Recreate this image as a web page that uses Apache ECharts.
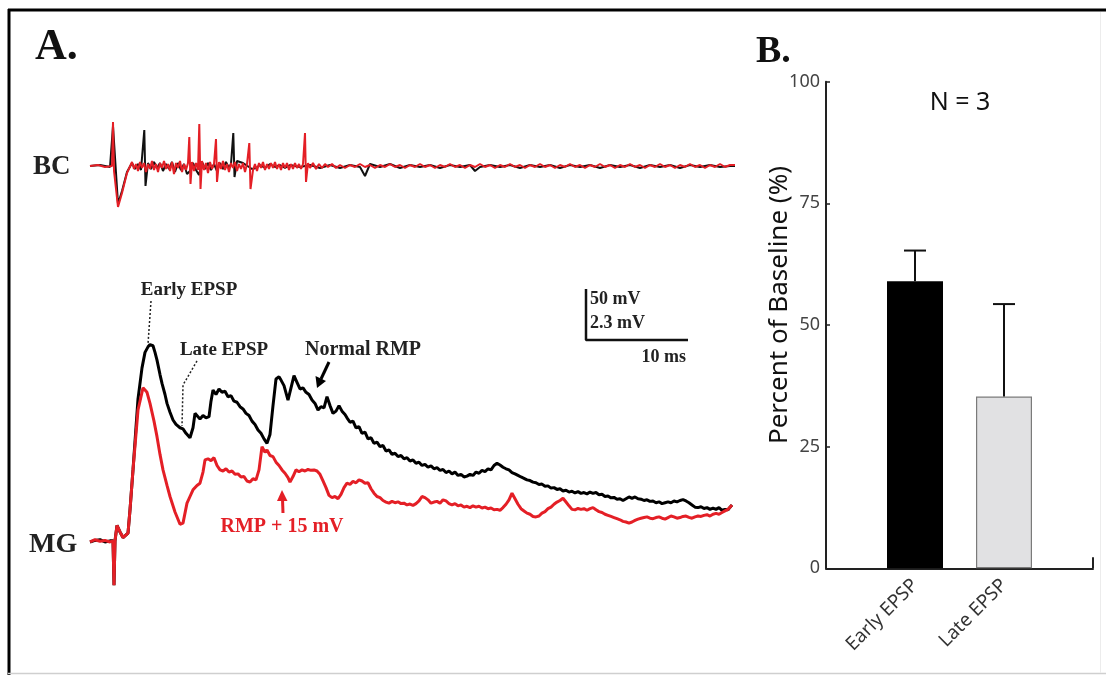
<!DOCTYPE html>
<html><head><meta charset="utf-8">
<script src="https://cdn.jsdelivr.net/npm/echarts@6/dist/echarts.min.js"></script>
<style>html,body{margin:0;padding:0;background:#fff}#c{width:1106px;height:675px}</style>
</head><body><div id="c"></div>
<script>
// ---- Panel A: BC (stimulus) traces, time in ms, voltage in mV ----
const bcBlack = [[0,0],[1,1],[2,-1],[2.3,40],[2.8,-38],[3.2,-25],[3.7,-6],[4.2,3],[4.5,-3],[4.8,2],[5.1,-4],[5.43,36],[5.55,-20],[5.8,3],[6.1,-3],[6.4,4],[6.7,-2],[7.0,3],[7.3,-5],[7.6,2],[7.9,-3],[8.2,4],[8.5,-6],[8.8,3],[9.1,-4],[9.4,2],[9.7,-8],[10.0,-5],[10.3,3],[10.6,-4],[10.9,-9],[11.2,4],[11.5,-3],[11.8,3],[12.1,-4],[12.4,2],[12.7,-5],[13.0,3],[13.3,-3],[13.6,4],[13.9,-2],[14.1,2],[14.33,33],[14.45,-11],[14.7,5],[15.0,4],[15.3,3],[15.6,1],[15.9,-1],[16.2,-3],[16.6,-2],[17,1],[17.5,-2],[18,2],[18.5,-1],[19,1],[19.5,-2],[20,1],[21,-1],[22,1],[23,-2],[24,1],[25,-2],[26,1],[27,-1],[27.5,-10],[28,2],[29,-1],[30,2],[31,-2],[32,1],[33,-1],[34,1],[35,-2],[36,1],[37,-1],[38,1],[38.5,-5],[39,-1],[40,1],[41,-1],[42,1],[43,-2],[44,1],[45,-1],[46,1],[47,-2],[48,1],[49,-1],[50,1],[51,-2],[52,1],[53,-1],[54,1],[55,-2],[56,1],[57,-1],[58,1],[59,-2],[60,1],[61,-1],[62,1],[63,-1],[64,0],[64.5,0]];
const bcRed = [[0,0],[0.8,1],[1.5,-1],[2.2,0],[2.3,44],[2.4,-5],[2.8,-41],[3.2,-27],[3.7,-7],[4.2,4],[4.4,-3],[4.6,2],[4.8,-5],[5.0,4],[5.2,-2],[5.4,3],[5.6,-6],[5.8,2],[6.0,-3],[6.2,5],[6.4,-4],[6.6,2],[6.8,-6],[7.0,3],[7.2,-2],[7.4,5],[7.6,-3],[7.8,2],[8.0,-5],[8.2,4],[8.4,-8],[8.6,3],[8.8,-2],[9.0,5],[9.2,-6],[9.4,2],[9.6,-4],[9.8,3],[9.93,29],[10.05,-18],[10.2,4],[10.4,-5],[10.6,3],[10.8,-4],[10.93,42],[11.05,-23],[11.2,5],[11.4,-4],[11.6,3],[11.8,-7],[12.0,4],[12.2,-3],[12.4,2],[12.6,27],[12.7,-16],[12.9,4],[13.1,-3],[13.3,5],[13.5,-4],[13.7,2],[13.9,-6],[14.1,3],[14.3,-2],[14.5,4],[14.7,-5],[14.9,2],[15.1,-3],[15.3,3],[15.5,-6],[15.7,2],[15.93,23],[16.05,-23],[16.3,-4],[16.5,2],[16.7,-5],[16.9,3],[17.1,-2],[17.3,4],[17.5,-4],[17.7,2],[17.9,-3],[18.1,3],[18.3,-2],[18.5,4],[18.7,-3],[18.9,2],[19.1,-4],[19.3,3],[19.5,-2],[19.7,3],[19.9,-4],[20.1,2],[20.3,-3],[20.5,3],[20.7,-2],[20.9,2],[21.1,-3],[21.3,2],[21.5,33],[21.6,-16],[21.8,3],[22.0,-2],[22.3,3],[22.6,-3],[22.9,2],[23.2,-2],[23.5,2],[23.8,-1],[24.2,2],[24.6,-2],[25,1],[25.5,-2],[26,1],[26.5,-1],[27,2],[27.5,-1],[28,1],[28.5,-2],[29,1],[29.5,-1],[30,2],[30.5,-1],[31,1],[31.5,-2],[32,1],[32.5,-1],[33,2],[33.5,-1],[34,1],[34.5,-2],[35,1],[35.5,-1],[36,2],[36.5,-1],[37,1],[37.5,-2],[38,1],[38.5,-1],[39,2],[39.5,-1],[40,1],[40.5,-2],[41,1],[41.5,-1],[42,2],[42.5,-1],[43,1],[43.5,-2],[44,1],[44.5,-1],[45,2],[45.5,-1],[46,1],[46.5,-2],[47,1],[47.5,-1],[48,2],[48.5,-1],[49,1],[49.5,-2],[50,1],[50.5,-1],[51,2],[51.5,-1],[52,1],[52.5,-2],[53,1],[53.5,-1],[54,2],[54.5,-1],[55,1],[55.5,-2],[56,1],[56.5,-1],[57,2],[57.5,-1],[58,1],[58.5,-2],[59,1],[59.5,-1],[60,2],[60.5,-1],[61,1],[61.5,-2],[62,1],[62.5,-1],[63,2],[63.5,-1],[64,1],[64.5,1]];

// ---- Panel A: MG traces (normal RMP = black, RMP + 15 mV = red) ----
const mgBlack = [[0,0.05],[0.5,0.12],[1.0,0.15],[1.5,0.05],[2.0,0.1],[2.3,0.1],[2.4,-1.9],[2.5,0.1],[2.7,0.8],[3.0,0.5],[3.3,0.25],[3.8,0.45],[4.0,1.5],[4.3,3.3],[4.8,6.5],[5.2,7.9],[5.5,8.6],[5.8,8.85],[6.0,8.95],[6.3,8.9],[6.5,8.6],[6.7,8.25],[7.0,7.6],[7.2,7.2],[7.5,6.7],[7.7,6.3],[8.0,5.9],[8.3,5.55],[8.6,5.35],[8.8,5.4],[9.0,5.2],[9.3,5.15],[9.6,4.95],[9.8,5.0],[10.0,4.75],[10.3,5.2],[10.5,5.85],[10.8,5.7],[11.0,5.6],[11.3,5.75],[11.6,5.65],[11.9,5.7],[12.1,6.4],[12.3,6.9],[12.6,6.7],[12.9,6.95],[13.2,6.8],[13.5,6.85],[13.8,6.6],[14.1,6.65],[14.4,6.4],[14.7,6.35],[15.0,6.15],[15.3,6.05],[15.6,5.85],[15.9,5.75],[16.2,5.5],[16.5,5.35],[16.8,5.1],[17.1,4.95],[17.4,4.7],[17.7,4.5],[18.0,4.9],[18.3,6.2],[18.6,7.4],[18.9,7.5],[19.1,7.35],[19.4,7.1],[19.8,6.45],[20.1,7.0],[20.4,7.55],[20.7,7.25],[21.0,6.95],[21.3,7.0],[21.6,6.8],[21.9,6.7],[22.2,6.45],[22.5,6.3],[22.8,6.0],[23.1,6.15],[23.4,6.1],[23.7,6.6],[24.0,6.2],[24.3,5.85],[24.6,5.95],[24.9,6.2],[25.2,5.95],[25.5,5.8],[25.7,5.65],[26.0,5.45],[26.3,5.5],[26.6,5.2],[26.9,5.25],[27.2,4.95],[27.5,5.0],[27.8,4.7],[28.1,4.75],[28.4,4.5],[28.7,4.55],[29.0,4.35],[29.3,4.4],[29.6,4.15],[29.9,4.2],[30.2,4.0],[30.5,4.05],[30.8,3.9],[31.1,3.95],[31.4,3.8],[31.7,3.85],[32.0,3.7],[32.3,3.75],[32.6,3.6],[32.9,3.65],[33.2,3.5],[33.5,3.55],[33.8,3.42],[34.1,3.48],[34.4,3.35],[34.7,3.4],[35.0,3.28],[35.3,3.32],[35.6,3.18],[35.9,3.25],[36.2,3.12],[36.5,3.2],[36.8,3.05],[37.1,3.1],[37.4,2.98],[37.7,3.02],[38.0,3.1],[38.3,3.05],[38.6,3.2],[38.9,3.15],[39.2,3.28],[39.5,3.22],[39.8,3.35],[40.1,3.3],[40.4,3.5],[40.7,3.6],[41.0,3.52],[41.3,3.42],[41.6,3.35],[41.9,3.3],[42.2,3.18],[42.5,3.12],[42.8,3.05],[43.1,2.98],[43.4,2.92],[43.7,2.85],[44.0,2.82],[44.3,2.75],[44.6,2.72],[44.9,2.64],[45.2,2.66],[45.5,2.56],[45.8,2.58],[46.1,2.48],[46.4,2.5],[46.7,2.42],[47.0,2.45],[47.3,2.35],[47.6,2.38],[47.9,2.3],[48.2,2.34],[48.5,2.26],[48.8,2.32],[49.1,2.24],[49.4,2.28],[49.7,2.22],[50.0,2.3],[50.3,2.24],[50.6,2.28],[50.9,2.18],[51.2,2.2],[51.5,2.1],[51.8,2.12],[52.1,2.04],[52.4,2.06],[52.7,1.98],[53.0,2.0],[53.3,1.92],[53.6,2.0],[53.9,2.08],[54.2,2.02],[54.5,2.08],[54.8,2.0],[55.1,1.98],[55.4,1.92],[55.7,1.95],[56.0,1.88],[56.3,1.9],[56.6,1.82],[56.9,1.86],[57.2,1.78],[57.5,1.82],[57.8,1.86],[58.1,1.82],[58.4,1.9],[58.7,1.86],[59.0,1.92],[59.3,1.96],[59.6,1.9],[59.9,1.82],[60.2,1.72],[60.5,1.62],[60.8,1.6],[61.1,1.64],[61.4,1.56],[61.7,1.6],[62.0,1.52],[62.3,1.58],[62.6,1.52],[62.9,1.6],[63.2,1.48],[63.5,1.52],[63.8,1.5],[64.0,1.62],[64.2,1.72]];
const mgRed = [[0,0.05],[0.5,0.15],[1.0,0.08],[1.5,0.12],[2.0,0.05],[2.3,0.1],[2.4,-1.9],[2.5,0.1],[2.7,0.8],[3.0,0.5],[3.3,0.25],[3.8,0.45],[4.0,1.5],[4.3,3.3],[4.8,6.0],[5.3,7.0],[5.7,6.8],[6.0,6.3],[6.4,5.5],[6.7,4.8],[7.0,4.0],[7.3,3.3],[7.7,2.6],[8.0,2.1],[8.5,1.4],[9.0,0.85],[9.3,0.9],[9.7,1.8],[10.0,2.1],[10.3,2.4],[10.7,2.6],[11.0,2.7],[11.3,3.2],[11.5,3.75],[11.8,3.8],[12.1,3.72],[12.4,3.85],[12.7,3.5],[13.0,3.3],[13.3,3.25],[13.6,3.35],[13.9,3.2],[14.2,3.25],[14.5,3.1],[14.8,3.12],[15.1,2.98],[15.4,3.0],[15.7,2.8],[16.0,2.75],[16.3,2.9],[16.6,2.85],[16.9,3.3],[17.2,4.35],[17.5,4.1],[17.7,4.2],[18.0,3.95],[18.3,3.9],[18.6,3.65],[18.9,3.5],[19.2,3.3],[19.5,3.15],[19.8,2.95],[20.0,2.75],[20.3,3.0],[20.6,3.3],[20.9,3.22],[21.2,3.3],[21.5,3.25],[21.8,3.32],[22.1,3.28],[22.4,3.3],[22.7,3.25],[23.0,3.1],[23.3,2.8],[23.6,2.5],[23.9,2.15],[24.2,2.05],[24.5,2.1],[24.8,2.0],[25.1,2.2],[25.4,2.5],[25.7,2.7],[26.0,2.65],[26.3,2.78],[26.6,2.72],[26.9,2.85],[27.2,2.8],[27.5,2.7],[27.8,2.72],[28.1,2.45],[28.4,2.25],[28.7,2.1],[29.0,2.05],[29.3,1.92],[29.6,1.85],[29.9,1.8],[30.2,1.88],[30.5,1.82],[30.8,1.86],[31.1,1.78],[31.4,1.8],[31.7,1.72],[32.0,1.76],[32.3,1.7],[32.6,1.78],[32.9,1.9],[33.2,2.1],[33.5,2.05],[33.8,1.95],[34.1,1.8],[34.4,1.85],[34.7,1.88],[35.0,1.8],[35.3,1.95],[35.6,1.9],[35.9,1.78],[36.2,1.72],[36.5,1.78],[36.8,1.68],[37.1,1.72],[37.4,1.62],[37.7,1.66],[38.0,1.6],[38.3,1.68],[38.6,1.62],[38.9,1.66],[39.2,1.58],[39.5,1.62],[39.8,1.55],[40.1,1.58],[40.4,1.5],[40.7,1.52],[41.0,1.48],[41.3,1.6],[41.6,1.75],[41.9,1.95],[42.2,2.25],[42.5,2.0],[42.8,1.75],[43.1,1.55],[43.4,1.45],[43.7,1.35],[44.0,1.3],[44.3,1.2],[44.6,1.18],[44.9,1.22],[45.2,1.35],[45.5,1.42],[45.8,1.55],[46.1,1.62],[46.4,1.75],[46.7,1.85],[47.0,1.92],[47.3,2.02],[47.6,1.85],[47.9,1.68],[48.2,1.52],[48.5,1.5],[48.8,1.56],[49.1,1.52],[49.4,1.55],[49.7,1.48],[50.0,1.55],[50.3,1.6],[50.6,1.5],[50.9,1.42],[51.2,1.38],[51.5,1.3],[51.8,1.25],[52.1,1.2],[52.4,1.15],[52.7,1.1],[53.0,1.05],[53.3,0.98],[53.6,0.95],[53.9,0.9],[54.2,0.95],[54.5,1.02],[54.8,1.08],[55.1,1.12],[55.4,1.15],[55.7,1.18],[56.0,1.12],[56.3,1.1],[56.6,1.15],[56.9,1.18],[57.2,1.12],[57.5,1.08],[57.8,1.15],[58.1,1.22],[58.4,1.18],[58.7,1.12],[59.0,1.15],[59.3,1.2],[59.6,1.22],[59.9,1.16],[60.2,1.12],[60.5,1.18],[60.8,1.22],[61.1,1.2],[61.4,1.25],[61.7,1.28],[62.0,1.22],[62.3,1.3],[62.6,1.34],[62.9,1.3],[63.2,1.38],[63.5,1.45],[63.8,1.52],[64.0,1.62],[64.2,1.72]];

// scale bar: 10 ms horizontal, 2.3 mV (MG) / 50 mV (BC) vertical
const scaleBar = [[49.6, 11.46], [49.6, 9.16], [59.8, 9.16]];

// ---- Panel B: bar chart ----
const barCategories = ['', 'Early EPSP', 'Late EPSP', ''];
const barMeans = [null, 59.0, 35.3, null];
const barErrors = [null, 6.3, 19.0, null];
const barColors = ['#000', '#000000', '#e1e1e3', '#000'];
const yTickValues = [0, 25, 50, 75, 100];
const yAxisTitle = 'Percent of Baseline (%)';

const serif = '"Liberation Serif", "DejaVu Serif", serif';
const sans = '"Noto Sans", "Open Sans", sans-serif';

const chart = echarts.init(document.getElementById('c'), null, {renderer: 'canvas'});

const errData = [];
barMeans.forEach((m, i) => { if (m != null) errData.push([i, m, m + barErrors[i]]); });

function txt(text, x, y, size, color, align, extra) {
  return Object.assign({
    type: 'text', z: 100,
    style: {text: text, x: x, y: y, font: 'bold ' + size + 'px ' + serif, fill: color || '#111',
      textAlign: align || 'left', textVerticalAlign: 'middle', align: align || 'left', verticalAlign: 'middle'}
  }, extra || {});
}

const option = {
  animation: false,
  backgroundColor: '#fff',
  grid: [
    {left: 90, top: 106, width: 650, height: 120},
    {left: 90, top: 277, width: 650, height: 321.5},
    {left: 826, top: 81.7, width: 267, height: 486.6}
  ],
  xAxis: [
    {gridIndex: 0, type: 'value', min: 0, max: 65, show: false},
    {gridIndex: 1, type: 'value', min: 0, max: 65, show: false},
    {gridIndex: 2, type: 'category', data: barCategories, boundaryGap: false,
      axisLine: {lineStyle: {color: '#222', width: 2}},
      axisTick: {inside: true, length: 11, interval: function (i) { return i === barCategories.length - 1; }, lineStyle: {color: '#222', width: 2}},
      axisLabel: {rotate: 45, interval: 0, color: '#333', fontSize: 19, fontFamily: sans, margin: 14}
    }
  ],
  yAxis: [
    {gridIndex: 0, type: 'value', min: -60, max: 60, show: false},
    {gridIndex: 1, type: 'value', min: -2.5, max: 12, show: false},
    {gridIndex: 2, type: 'value', min: 0, max: 100, interval: 25,
      splitLine: {show: false},
      axisLine: {show: true, lineStyle: {color: '#222', width: 2}},
      axisTick: {show: true, inside: true, length: 4, lineStyle: {color: '#222', width: 1.5}},
      axisLabel: {color: '#444', fontSize: 18, fontFamily: sans, margin: 6,
        formatter: function (v) { return yTickValues.indexOf(v) >= 0 ? String(v) : ''; }}
    }
  ],
  series: [
    {type: 'line', xAxisIndex: 0, yAxisIndex: 0, data: bcBlack, symbol: 'none', lineStyle: {color: '#111', width: 2}},
    {type: 'line', xAxisIndex: 0, yAxisIndex: 0, data: bcRed, symbol: 'none', lineStyle: {color: '#e41f26', width: 2}},
    {type: 'line', xAxisIndex: 1, yAxisIndex: 1, data: mgBlack, symbol: 'none', lineStyle: {color: '#000', width: 3}},
    {type: 'line', xAxisIndex: 1, yAxisIndex: 1, data: mgRed, symbol: 'none', lineStyle: {color: '#e41f26', width: 3}},
    {type: 'line', xAxisIndex: 1, yAxisIndex: 1, data: scaleBar, symbol: 'none', lineStyle: {color: '#111', width: 2.5}},
    {type: 'bar', xAxisIndex: 2, yAxisIndex: 2, barWidth: 56,
      data: barMeans.map((v, i) => ({value: v, itemStyle: {color: barColors[i], borderColor: i === 2 ? '#7a7a7a' : '#000', borderWidth: i === 2 ? 1.2 : 0}}))},
    {type: 'custom', xAxisIndex: 2, yAxisIndex: 2, data: errData, z: 5,
      renderItem: function (params, api) {
        const base = api.coord([api.value(0), api.value(1)]);
        const top = api.coord([api.value(0), api.value(2)]);
        const cap = 11;
        return {type: 'group', children: [
          {type: 'line', shape: {x1: base[0], y1: base[1], x2: top[0], y2: top[1]}, style: {stroke: '#111', lineWidth: 2}},
          {type: 'line', shape: {x1: top[0] - cap, y1: top[1], x2: top[0] + cap, y2: top[1]}, style: {stroke: '#111', lineWidth: 2}}
        ]};
      }
    }
  ],
  graphic: [
    // frame
    {type: 'line', shape: {x1: 8, y1: 10, x2: 1106, y2: 10}, style: {stroke: '#000', lineWidth: 3}},
    {type: 'line', shape: {x1: 9, y1: 9, x2: 9, y2: 675}, style: {stroke: '#000', lineWidth: 3}},
    {type: 'line', shape: {x1: 8, y1: 673.5, x2: 1106, y2: 673.5}, style: {stroke: '#cfcfcf', lineWidth: 1.5}},
    {type: 'line', shape: {x1: 1100.5, y1: 12, x2: 1100.5, y2: 673}, style: {stroke: '#ececec', lineWidth: 1}},
    // panel letters & trace labels
    txt('A.', 35, 48, 44, '#111'),
    txt('B.', 756, 52, 38, '#111'),
    txt('BC', 33, 167, 27, '#222'),
    txt('MG', 29, 545, 28, '#222'),
    txt('Early EPSP', 189, 290, 19, '#222', 'center'),
    txt('Late EPSP', 224, 350, 19, '#222', 'center'),
    txt('Normal RMP', 363, 350, 20, '#222', 'center'),
    txt('RMP + 15 mV', 282, 527, 20, '#e41f26', 'center'),
    txt('50 mV', 590, 299, 18, '#222'),
    txt('2.3 mV', 590, 323, 18, '#222'),
    txt('10 ms', 686, 357, 18, '#222', 'right'),
    // leader lines
    {type: 'polyline', z: 100, shape: {points: [[151, 301], [148, 344]]}, style: {stroke: '#222', lineWidth: 1.5, lineDash: [2, 2], fill: null}},
    {type: 'polyline', z: 100, shape: {points: [[197, 361], [183, 385], [182, 426]]}, style: {stroke: '#222', lineWidth: 1.5, lineDash: [2, 2], fill: null}},
    // Normal RMP arrow
    {type: 'line', z: 100, shape: {x1: 329, y1: 362, x2: 321, y2: 379}, style: {stroke: '#000', lineWidth: 3}},
    {type: 'polygon', z: 100, shape: {points: [[317, 388], [326, 381], [315.5, 376]]}, style: {fill: '#000'}},
    // RMP + 15 arrow
    {type: 'line', z: 100, shape: {x1: 283, y1: 513, x2: 282.5, y2: 499}, style: {stroke: '#e41f26', lineWidth: 3}},
    {type: 'polygon', z: 100, shape: {points: [[282, 490], [277, 501], [287.5, 501]]}, style: {fill: '#e41f26'}},
    // N = 3
    {type: 'text', z: 100, style: {text: 'N = 3', x: 960, y: 103, font: '25px ' + sans, fill: '#111',
      textAlign: 'center', textVerticalAlign: 'middle', align: 'center', verticalAlign: 'middle'}},
    // y-axis title of panel B
    {type: 'text', z: 100, x: 779.5, y: 305, rotation: Math.PI / 2,
      style: {text: yAxisTitle, x: 0, y: 0, font: '26px ' + sans, fill: '#111',
        textAlign: 'center', textVerticalAlign: 'middle', align: 'center', verticalAlign: 'middle'}}
  ]
};
chart.setOption(option);
</script>
</body></html>
